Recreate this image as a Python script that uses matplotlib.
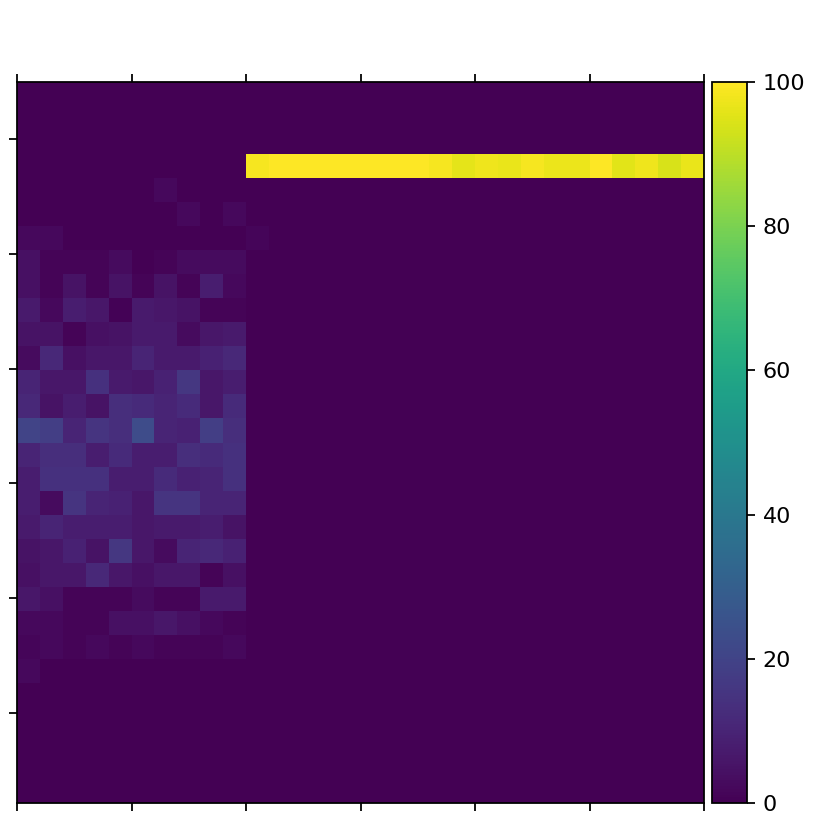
import numpy as np
import matplotlib
matplotlib.use("Agg")
import matplotlib.pyplot as plt

# grid size
n_cols = 30
n_rows = 30

# left block: rows 4..24 (counted from top), columns 0..9
block_first_row = 4
block_values = [
    [0, 0, 0, 0, 0, 0, 2, 0, 0, 0],      # row 4
    [0, 0, 0, 0, 0, 0, 0, 2, 0, 2],      # row 5
    [2, 2, 0, 0, 0, 0, 0, 0, 0, 0],      # row 6
    [4, 1, 1, 1, 3, 0, 1, 3, 3, 3],      # row 7
    [4, 1, 5, 1, 5, 1, 5, 1, 8, 2],      # row 8
    [7, 2, 8, 6, 0.5, 7, 6, 5, 1, 1],    # row 9
    [5, 5, 1, 4, 5, 7, 7, 3, 6, 7],      # row 10
    [3, 11, 4, 6, 6, 10, 7, 7, 9, 11],   # row 11
    [10, 6, 6, 14, 7, 6, 9, 16, 6, 8],   # row 12
    [11, 5, 8, 5, 13, 12, 10, 12, 6, 12],  # row 13
    [20, 18, 10, 15, 13, 23, 10, 9, 18, 13],  # row 14
    [10, 13, 13, 8, 12, 8, 8, 13, 12, 14],  # row 15
    [8, 14, 14, 14, 8, 8, 12, 9, 10, 14],  # row 16
    [8, 3, 15, 10, 9, 6, 15, 15, 10, 10],  # row 17
    [7, 10, 8, 8, 8, 6, 7, 7, 8, 5],     # row 18
    [5, 6, 9, 5, 16, 6, 3, 10, 11, 9],   # row 19
    [4, 6, 6, 11, 6, 4, 6, 6, 1, 4],     # row 20
    [6, 4, 1, 1, 1, 3, 1, 1, 7, 7],      # row 21
    [2, 2, 1, 1, 4, 4, 6, 4, 2, 1],      # row 22
    [1.5, 2, 1, 2, 1, 2, 1, 1, 1, 2],    # row 23
    [2, 0, 0, 0, 0, 0, 0, 0, 0, 0],      # row 24
]

# single faint cell next to the block
faint_row, faint_col, faint_value = 6, 10, 1.5

# bright bar: row 3 (from top), columns 10..29
bar_row = 3
bar_first_col = 10
bar_values = [98.5, 100, 100, 100, 100, 100, 100, 100, 98.5, 96,
              97.5, 96.5, 98.5, 97, 97, 100, 95.5, 97.5, 94, 96.5]

vmin, vmax = 0, 100

Z = np.zeros((n_rows, n_cols))
blk = np.array(block_values, dtype=float)
Z[block_first_row:block_first_row + blk.shape[0], 0:blk.shape[1]] = blk
Z[bar_row, bar_first_col:bar_first_col + len(bar_values)] = bar_values
Z[faint_row, faint_col] = faint_value

x_edges = np.arange(n_cols + 1)
y_edges = np.linspace(-np.pi / 4, 7 * np.pi / 4, n_rows + 1)

W = 830
fig = plt.figure(figsize=(W / 160, W / 160), dpi=160)
ax = fig.add_axes([17 / W, 27 / W, 687 / W, 721 / W])
mesh = ax.pcolormesh(x_edges, y_edges, Z[::-1], cmap="viridis", vmin=vmin, vmax=vmax)
ax.set_xlim(0, n_cols)
ax.set_ylim(y_edges[0], y_edges[-1])
ax.set_xticks(np.arange(0, n_cols + 1, 5))
ax.tick_params(top=True, bottom=True, left=True, right=False,
               labeltop=False, labelbottom=False, labelleft=False, labelright=False)

cax = fig.add_axes([712 / W, 27 / W, 35 / W, 721 / W])
cb = fig.colorbar(mesh, cax=cax)
cb.set_ticks([0, 20, 40, 60, 80, 100])

fig.savefig("out.png", dpi=160)
